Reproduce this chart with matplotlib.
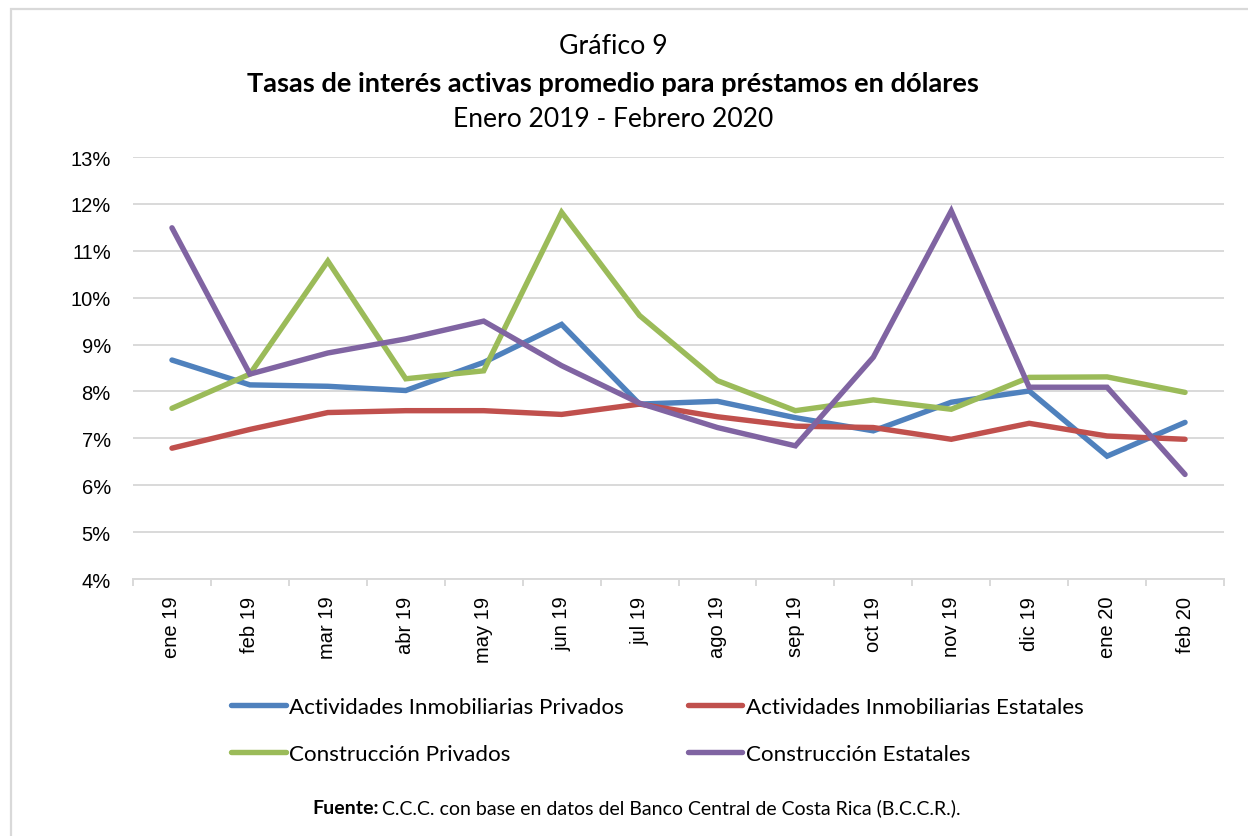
import numpy as np
import matplotlib.pyplot as plt
from matplotlib.patches import Rectangle
from matplotlib.ticker import FuncFormatter

# --- Data (in %) ---
months = ['ene 19', 'feb 19', 'mar 19', 'abr 19', 'may 19', 'jun 19', 'jul 19',
          'ago 19', 'sep 19', 'oct 19', 'nov 19', 'dic 19', 'ene 20', 'feb 20']
inmob_privados = [8.67, 8.14, 8.11, 8.02, 8.62, 9.43, 7.73, 7.79, 7.44, 7.16, 7.77, 8.01, 6.62, 7.34]
inmob_estatales = [6.79, 7.19, 7.55, 7.59, 7.59, 7.51, 7.73, 7.46, 7.26, 7.23, 6.98, 7.32, 7.05, 6.98]
constr_privados = [7.64, 8.37, 10.78, 8.27, 8.44, 11.82, 9.62, 8.23, 7.59, 7.82, 7.62, 8.30, 8.31, 7.98]
constr_estatales = [11.49, 8.37, 8.82, 9.12, 9.50, 8.55, 7.75, 7.23, 6.84, 8.73, 11.85, 8.09, 8.09, 6.23]

series = [
    ('Actividades Inmobiliarias Privados', inmob_privados, '#4F81BD'),
    ('Actividades Inmobiliarias Estatales', inmob_estatales, '#C0504D'),
    ('Construcción Privados', constr_privados, '#9BBB59'),
    ('Construcción Estatales', constr_estatales, '#8064A2'),
]

W, H = 1248, 837
fig = plt.figure(figsize=(W / 100, H / 100), dpi=100)
ax = fig.add_axes([133 / W, 1 - 580 / H, (1224 - 133) / W, (580 - 158) / H])

x = np.arange(len(months))
handles = []
for name, vals, color in series:
    ln, = ax.plot(x, vals, color=color, linewidth=3.9, solid_capstyle='round',
                  solid_joinstyle='miter', label=name)
    handles.append(ln)

# --- Axes styling ---
ax.set_xlim(-0.5, len(months) - 0.5)
ax.set_ylim(4, 13)
ax.set_yticks(np.arange(4, 14, 1))
ax.yaxis.set_major_formatter(FuncFormatter(lambda v, p: f'{v:.0f}%'))
ax.grid(axis='y', color='#D9D9D9', linewidth=1.4)
ax.set_axisbelow(True)
for s in ['top', 'right', 'left']:
    ax.spines[s].set_visible(False)
ax.spines['bottom'].set_color('#D9D9D9')
ax.spines['bottom'].set_linewidth(1.4)

ax.set_xticks(x)
ax.set_xticklabels(months, rotation=90, family='Liberation Sans', fontsize=14.5)
ax.set_xticks(np.arange(-0.5, len(months), 1), minor=True)
ax.tick_params(axis='x', which='major', length=0, pad=12)
ax.tick_params(axis='x', which='minor', length=5, width=1.4, color='#D9D9D9')
ax.tick_params(axis='y', length=0, pad=16)
for lab in ax.get_yticklabels():
    lab.set_family('Liberation Sans')
    lab.set_fontsize(14.5)

# --- Titles ---
tfont = 'Lato'
fig.text(0.4915, 1 - 54 / H, 'Gráfico 9', ha='center', va='baseline', fontsize=19.3, family=tfont)
fig.text(0.4915, 1 - 92 / H, 'Tasas de interés activas promedio para préstamos en dólares',
         ha='center', va='baseline', fontsize=19.6, fontweight='bold', family=tfont)
fig.text(0.4915, 1 - 127 / H, 'Enero 2019 - Febrero 2020', ha='center', va='baseline',
         fontsize=19.1, family=tfont)

# --- Legend (row-wise order) ---
order = [0, 2, 1, 3]
fig.legend([handles[i] for i in order], [series[i][0] for i in order],
           loc='upper left', bbox_to_anchor=(231 / W, 1 - 698 / H), ncol=2,
           frameon=False, prop={'family': tfont, 'size': 16.1},
           handlelength=2.45, handletextpad=0.15, columnspacing=2.85,
           labelspacing=1.2, borderpad=0, borderaxespad=0)

# --- Source note ---
fy = 1 - 814 / H
t1 = fig.text(312 / W, fy, 'Fuente:', ha='left', va='baseline', fontsize=14,
              fontweight='bold', family=tfont)
fig.canvas.draw()
bb = t1.get_window_extent()
fig.text(bb.x1 / W + 4 / W, fy, 'C.C.C. con base en datos del Banco Central de Costa Rica (B.C.C.R.).',
         ha='left', va='baseline', fontsize=14, family=tfont)

# --- Outer frame ---
fig.patches.append(Rectangle((11 / W, -0.05), 1.2, 1 - 10 / H + 0.05, transform=fig.transFigure,
                             fill=False, edgecolor='#D9D9D9', linewidth=1.6))

fig.savefig('out.png', dpi=100)
